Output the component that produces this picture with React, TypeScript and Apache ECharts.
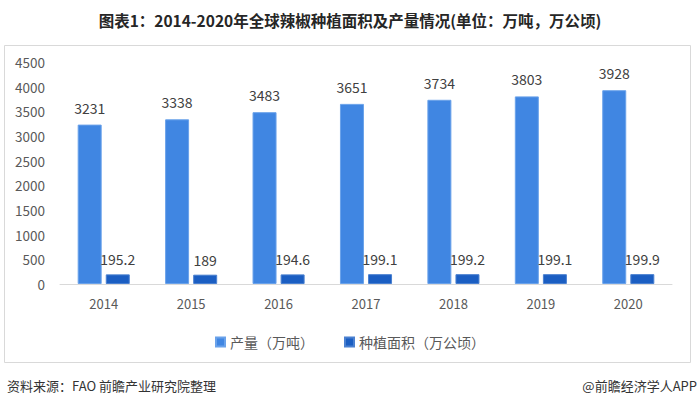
import React, { useEffect, useRef } from "react";
import * as echarts from "echarts";

const years = ["2014", "2015", "2016", "2017", "2018", "2019", "2020"];
const production = [3231, 3338, 3483, 3651, 3734, 3803, 3928];
const area = [195.2, 189, 194.6, 199.1, 199.2, 199.1, 199.9];
const seriesNames = ["产量（万吨）", "种植面积（万公顷）"];
const titleText = "图表1：2014-2020年全球辣椒种植面积及产量情况(单位：万吨，万公顷)";
const sourceText = "资料来源：FAO 前瞻产业研究院整理";
const brandText = "@前瞻经济学人APP";

const FONT = "'Noto Sans CJK SC', 'Microsoft YaHei', sans-serif";

export default function App() {
  const ref = useRef<HTMLDivElement>(null);
  useEffect(() => {
    if (!ref.current) return;
    const chart = echarts.init(ref.current, null, { renderer: "svg" });
    chart.setOption({
      animation: false,
      backgroundColor: "#ffffff",
      textStyle: { fontFamily: FONT },
      graphic: [
        {
          type: "rect",
          shape: { x: 4.5, y: 45.5, width: 686, height: 317 },
          style: { fill: "none", stroke: "#d9d9d9", lineWidth: 1 },
          silent: true,
        },
        {
          type: "text",
          x: 350,
          y: 20,
          style: {
            text: titleText,
            font: `bold 15.5px ${FONT}`,
            fill: "#262626",
            textAlign: "center",
            textVerticalAlign: "middle",
          },
        },
        {
          type: "text",
          x: 7,
          y: 385,
          style: {
            text: sourceText,
            font: `13px ${FONT}`,
            fill: "#333333",
            textAlign: "left",
            textVerticalAlign: "middle",
          },
        },
        {
          type: "text",
          x: 697,
          y: 385,
          style: {
            text: brandText,
            font: `13px ${FONT}`,
            fill: "#333333",
            textAlign: "right",
            textVerticalAlign: "middle",
          },
        },
      ],
      legend: {
        data: seriesNames,
        top: 330,
        left: "center",
        itemWidth: 9,
        itemHeight: 9,
        itemGap: 30,
        icon: "rect",
        textStyle: { color: "#595959", fontSize: 14, fontFamily: FONT },
      },
      grid: { left: 60, right: 28, top: 62, bottom: 122 },
      xAxis: {
        type: "category",
        data: years,
        axisLine: { lineStyle: { color: "#d9d9d9" } },
        axisTick: { show: false },
        axisLabel: { color: "#595959", fontSize: 13, margin: 13 },
      },
      yAxis: {
        type: "value",
        min: 0,
        max: 4500,
        interval: 500,
        splitLine: { show: false },
        axisLine: { show: false },
        axisTick: { show: false },
        axisLabel: {
          color: "#595959",
          fontSize: 13.5,
          margin: 15,
          formatter: (v: number) => String(v),
        },
      },
      series: [
        {
          name: seriesNames[0],
          type: "bar",
          data: production,
          barWidth: 24,
          barGap: "17%",
          itemStyle: { color: "#4086e2", borderColor: "#6aa2ea", borderWidth: 1 },
          label: { show: true, position: "top", distance: 10, color: "#404040", fontSize: 14 },
        },
        {
          name: seriesNames[1],
          type: "bar",
          data: area,
          barWidth: 24,
          itemStyle: { color: "#1b5ec2", borderColor: "#4a80d0", borderWidth: 1 },
          label: { show: true, position: "top", distance: 8, color: "#404040", fontSize: 14 },
        },
      ],
    });
    return () => chart.dispose();
  }, []);
  return (
    <div
      ref={ref}
      style={{ position: "fixed", left: 0, top: 0, width: 700, height: 406 }}
    />
  );
}
